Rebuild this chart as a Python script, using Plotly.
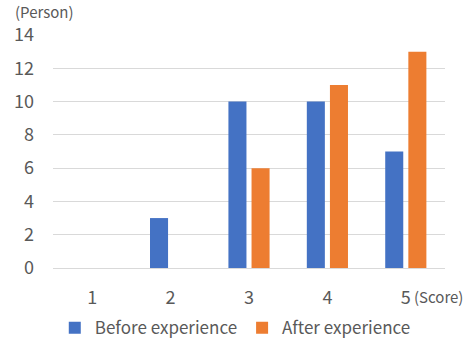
import plotly.graph_objects as go

scores = ["1", "2", "3", "4", "5"]
before = [0, 3, 10, 10, 7]
after = [0, 0, 6, 11, 13]
y_ticks = [0, 2, 4, 6, 8, 10, 12, 14]

FONT = "Noto Sans CJK KR, Noto Sans, sans-serif"
GRAY = "#595959"

fig = go.Figure()
fig.add_trace(go.Bar(x=scores, y=before, name="Before experience",
                     marker=dict(color="#4472C4", line=dict(width=0))))
fig.add_trace(go.Bar(x=scores, y=after, name="After experience",
                     marker=dict(color="#ED7D31", line=dict(width=0))))

fig.update_layout(
    width=470, height=340,
    margin=dict(l=53, r=25, t=35, b=72, autoexpand=False),
    plot_bgcolor="white", paper_bgcolor="white",
    barmode="group", bargap=0.41, bargroupgap=0.22,
    font=dict(family=FONT, color=GRAY, size=17),
    showlegend=True,
    legend=dict(orientation="h", x=0.465, xanchor="center",
                yref="container", y=0.035, yanchor="middle",
                font=dict(size=17, color=GRAY), itemwidth=30,
                traceorder="normal"),
    xaxis=dict(type="category", range=[-0.5, 4.5], showgrid=False, showline=False,
               zeroline=False, ticks="", ticklabelstandoff=17,
               tickfont=dict(size=18, color=GRAY)),
    yaxis=dict(range=[0, 14], tickvals=y_ticks, showgrid=True, gridcolor="#D9D9D9",
               gridwidth=1, zeroline=True, zerolinecolor="#D9D9D9", zerolinewidth=1,
               showline=False, ticks="", ticklabelstandoff=18,
               tickfont=dict(size=18, color=GRAY)),
    annotations=[
        dict(text="(Person)", xref="paper", yref="paper", x=-0.102, y=1.1,
             xanchor="left", yanchor="middle", showarrow=False,
             font=dict(size=15, color=GRAY)),
        dict(text="(Score)", xref="paper", yref="paper", x=1.051, y=-0.124,
             xanchor="right", yanchor="middle", showarrow=False,
             font=dict(size=15, color=GRAY)),
    ],
)

fig.write_html("out.html")
